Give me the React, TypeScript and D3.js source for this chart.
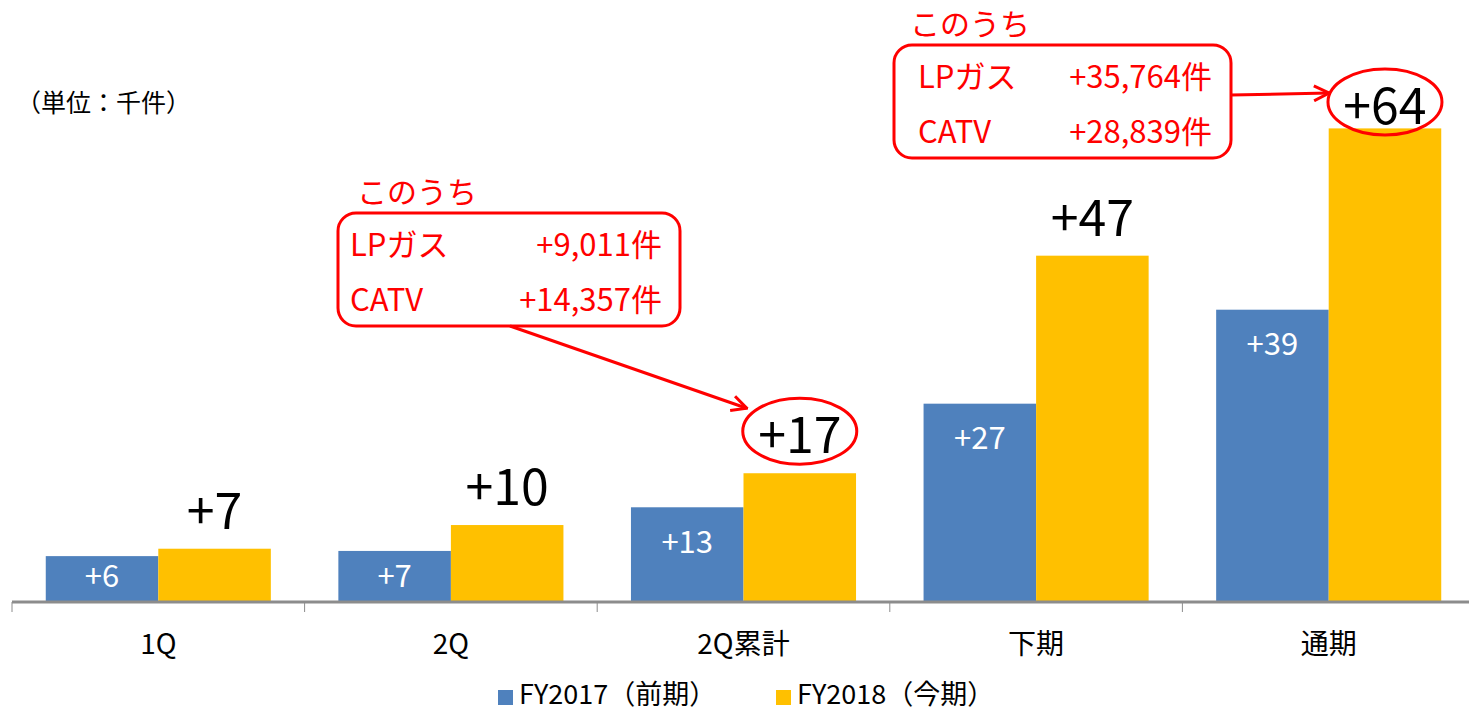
import React from "react";
import * as d3 from "d3";

const categories = ["1Q", "2Q", "2Q累計", "下期", "通期"];
const seriesKeys = ["FY2017", "FY2018"];
const seriesNames = ["FY2017（前期）", "FY2018（今期）"];
const fy2017 = [6.2, 6.9, 12.8, 26.8, 39.5];
const fy2018 = [7.2, 10.4, 17.4, 46.8, 64.0];
const fy2017Labels = ["+6", "+7", "+13", "+27", "+39"];
const fy2018Labels = ["+7", "+10", "+17", "+47", "+64"];
const unitLabel = "（単位：千件）";
const calloutTitle = "このうち";
const callout1Rows = [["LPガス", "+9,011件"], ["CATV", "+14,357件"]];
const callout2Rows = [["LPガス", "+35,764件"], ["CATV", "+28,839件"]];

const W = 1469;
const H = 713;
const BLUE = "#4F81BD";
const YELLOW = "#FFC000";
const RED = "#FF0000";
const FONT = "'Noto Sans CJK JP', 'Noto Sans', sans-serif";

export default function App() {
  const baseY = 602;
  const x0 = d3.scaleBand().domain(categories).range([12, 1475]).padding(0);
  const xSub = d3.scaleBand().domain(seriesKeys).range([0, x0.bandwidth()]).paddingInner(0).paddingOuter(0.3);
  const y = d3.scaleLinear().domain([0, 80]).range([baseY, baseY - 80 * 7.4]);
  const bw = xSub.bandwidth();

  const yellowLabelY = (v: number) => Math.max(y(v) - 42, 102);

  const c17 = categories[2];
  const c64 = categories[4];
  const e1 = { cx: x0(c17)! + xSub("FY2018")! + bw / 2, cy: yellowLabelY(fy2018[2]) };
  const e2 = { cx: x0(c64)! + xSub("FY2018")! + bw / 2, cy: yellowLabelY(fy2018[4]) };

  const box1 = { x: 338, y: 213, w: 342, h: 113 };
  const box2 = { x: 894, y: 45, w: 337, h: 113 };

  const renderCallout = (b: typeof box1, rows: string[][], titleX: number, labelX: number, valueX: number) => (
    <g>
      <text x={titleX} y={b.y - 10} fill={RED} fontSize={30} fontFamily={FONT}>{calloutTitle}</text>
      <rect x={b.x} y={b.y} width={b.w} height={b.h} rx={18} ry={18} fill="none" stroke={RED} strokeWidth={3} />
      {rows.map((r, i) => (
        <g key={i}>
          <text x={labelX} y={b.y + 43 + i * 55} fill={RED} fontSize={31} fontFamily={FONT}>{r[0]}</text>
          <text x={valueX} y={b.y + 43 + i * 55} fill={RED} fontSize={31} fontFamily={FONT} textAnchor="end">{r[1]}</text>
        </g>
      ))}
    </g>
  );

  return (
    <svg width={W} height={H} style={{ position: "fixed", left: 0, top: 0, background: "#fff" }}>
      <defs>
        <marker id="arr" viewBox="0 0 12 12" refX="11" refY="6" markerWidth="6" markerHeight="6" markerUnits="strokeWidth" orient="auto">
          <path d="M1,1 L11,6 L1,11" fill="none" stroke={RED} strokeWidth={2} />
        </marker>
      </defs>

      <text x={16} y={112} fontSize={25} fontFamily={FONT} fill="#000">{unitLabel}</text>

      {/* bars */}
      {categories.map((c, i) => (
        <g key={c} transform={`translate(${x0(c)},0)`}>
          <rect x={xSub("FY2017")} y={y(fy2017[i])} width={bw} height={baseY - y(fy2017[i])} fill={BLUE} />
          <rect x={xSub("FY2018")} y={y(fy2018[i])} width={bw} height={baseY - y(fy2018[i])} fill={YELLOW} />
          <text x={xSub("FY2017")! + bw / 2} y={Math.min(y(fy2017[i]) + 32, baseY - 29)} fill="#fff" fontSize={31} fontFamily={FONT} textAnchor="middle" dominantBaseline="central">{fy2017Labels[i]}</text>
          <text x={xSub("FY2018")! + bw / 2} y={yellowLabelY(fy2018[i])} fill="#000" fontSize={50} fontFamily={FONT} textAnchor="middle" dominantBaseline="central">{fy2018Labels[i]}</text>
          <text x={x0.bandwidth() / 2} y={642} fill="#000" fontSize={28} fontFamily={FONT} textAnchor="middle" dominantBaseline="central">{c}</text>
        </g>
      ))}

      {/* axis */}
      <line x1={12} x2={W} y1={baseY} y2={baseY} stroke="#8C8C8C" strokeWidth={3} />
      {[...categories.map((c) => x0(c)!), 1475].map((tx, i) => (
        <line key={i} x1={tx} x2={tx} y1={baseY} y2={baseY + 10} stroke="#8C8C8C" strokeWidth={1} />
      ))}

      {/* ellipses */}
      <ellipse cx={e1.cx} cy={e1.cy} rx={57} ry={33} fill="none" stroke={RED} strokeWidth={3} />
      <ellipse cx={e2.cx} cy={e2.cy} rx={57} ry={33} fill="none" stroke={RED} strokeWidth={3} />

      {/* callouts */}
      {renderCallout(box1, callout1Rows, 357, 350, 662)}
      {renderCallout(box2, callout2Rows, 910, 918, 1212)}

      {/* arrows */}
      <line x1={510} y1={box1.y + box1.h} x2={e1.cx - 53} y2={e1.cy - 23} stroke={RED} strokeWidth={3} markerEnd="url(#arr)" />
      <line x1={box2.x + box2.w} y1={95} x2={e2.cx - 56} y2={e2.cy - 9} stroke={RED} strokeWidth={3} markerEnd="url(#arr)" />

      {/* legend */}
      {seriesNames.map((n, i) => {
        const lx = i === 0 ? 498 : 776;
        return (
          <g key={n}>
            <rect x={lx} y={690} width={15} height={15} fill={i === 0 ? BLUE : YELLOW} />
            <text x={lx + 21} y={704} fontSize={27} fontFamily={FONT} fill="#000">{n}</text>
          </g>
        );
      })}
    </svg>
  );
}
